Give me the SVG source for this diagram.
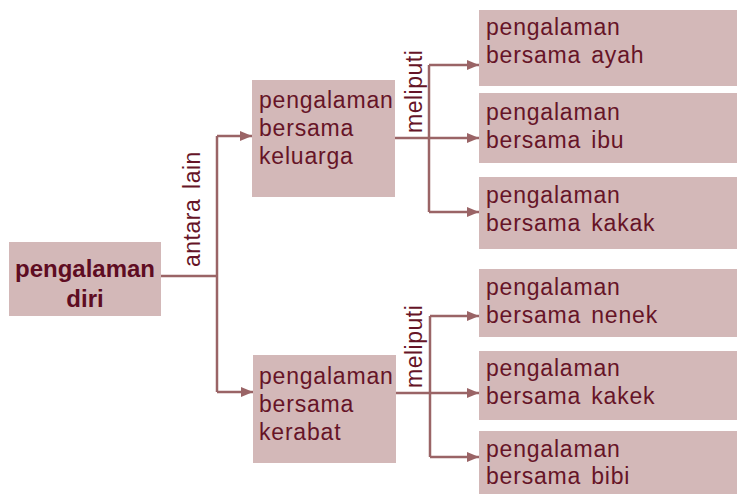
<svg xmlns="http://www.w3.org/2000/svg" width="737" height="494" viewBox="0 0 737 494">
<defs>
<style>
.box{fill:#d3b8b8;}
.t{font-family:"Liberation Sans",Arial,sans-serif;font-size:23px;letter-spacing:0.8px;word-spacing:3px;fill:#661427;}
.l{font-family:"Liberation Sans",Arial,sans-serif;font-size:23px;letter-spacing:0.5px;word-spacing:3px;fill:#661427;}
.b{font-family:"Liberation Sans",Arial,sans-serif;font-size:24px;font-weight:bold;letter-spacing:0px;fill:#5e0c22;}
.c{fill:none;stroke:#9a6466;stroke-width:2.5;}
</style>
<marker id="ah" viewBox="0 0 12 10" refX="12" refY="5" markerWidth="12" markerHeight="10" markerUnits="userSpaceOnUse" orient="auto">
<path d="M0,0 L12,5 L0,10 Z" fill="#9a6466"/>
</marker>
</defs>
<rect width="737" height="494" fill="#ffffff"/>
<g id="connectors">
<path class="c" d="M161,276 H217"/>
<path class="c" d="M217,136 V392"/>
<path class="c" d="M217,136 H252" marker-end="url(#ah)"/>
<path class="c" d="M217,392 H253" marker-end="url(#ah)"/>
<path class="c" d="M395,138 H479" marker-end="url(#ah)"/>
<path class="c" d="M429,65 V212"/>
<path class="c" d="M429,65 H479" marker-end="url(#ah)"/>
<path class="c" d="M429,212 H479" marker-end="url(#ah)"/>
<path class="c" d="M396,393 H479" marker-end="url(#ah)"/>
<path class="c" d="M430,316 V457"/>
<path class="c" d="M430,316 H479" marker-end="url(#ah)"/>
<path class="c" d="M430,457 H479" marker-end="url(#ah)"/>
<text class="l" transform="translate(200,267) rotate(-90)">antara lain</text>
<text class="l" transform="translate(422,133) rotate(-90)">meliputi</text>
<text class="l" transform="translate(422,388) rotate(-90)">meliputi</text>
</g>
<g id="root">
<rect class="box" x="9" y="242" width="152" height="74"/>
<text class="b" x="85" y="277" text-anchor="middle">pengalaman</text>
<text class="b" x="85" y="307" text-anchor="middle">diri</text>
</g>
<g id="keluarga">
<rect class="box" x="252" y="80" width="143" height="117"/>
<text class="t" x="259" y="108">pengalaman</text>
<text class="t" x="259" y="136">bersama</text>
<text class="t" x="259" y="164">keluarga</text>
</g>
<g id="kerabat">
<rect class="box" x="253" y="355" width="143" height="108"/>
<text class="t" x="259" y="384">pengalaman</text>
<text class="t" x="259" y="412">bersama</text>
<text class="t" x="259" y="440">kerabat</text>
</g>
<g id="ayah">
<rect class="box" x="479" y="10" width="258" height="76"/>
<text class="t" x="486" y="35">pengalaman</text>
<text class="t" x="486" y="63">bersama ayah</text>
</g>
<g id="ibu">
<rect class="box" x="479" y="93" width="258" height="70"/>
<text class="t" x="486" y="120">pengalaman</text>
<text class="t" x="486" y="148">bersama ibu</text>
</g>
<g id="kakak">
<rect class="box" x="479" y="177" width="258" height="72"/>
<text class="t" x="486" y="203">pengalaman</text>
<text class="t" x="486" y="231">bersama kakak</text>
</g>
<g id="nenek">
<rect class="box" x="479" y="269" width="258" height="68"/>
<text class="t" x="486" y="295">pengalaman</text>
<text class="t" x="486" y="323">bersama nenek</text>
</g>
<g id="kakek">
<rect class="box" x="479" y="351" width="258" height="69"/>
<text class="t" x="486" y="376">pengalaman</text>
<text class="t" x="486" y="404">bersama kakek</text>
</g>
<g id="bibi">
<rect class="box" x="479" y="431" width="258" height="63"/>
<text class="t" x="486" y="457">pengalaman</text>
<text class="t" x="486" y="484">bersama bibi</text>
</g>
</svg>
